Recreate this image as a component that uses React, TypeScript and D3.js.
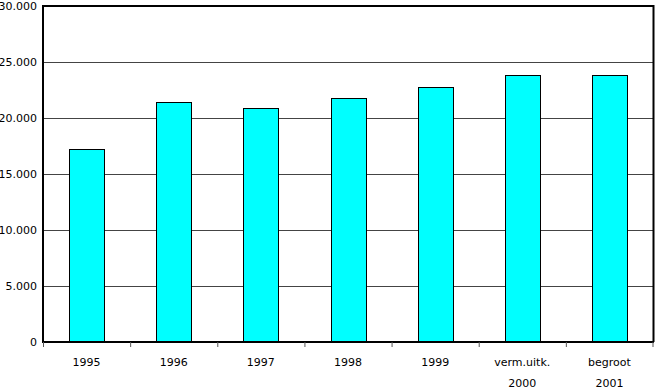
import React from "react";
import * as d3 from "d3";

const categories = ["1995", "1996", "1997", "1998", "1999", "verm.uitk.\n2000", "begroot\n2001"];
const values = [17200, 21400, 20900, 21750, 22800, 23850, 23850];
const yTicks = [0, 5000, 10000, 15000, 20000, 25000, 30000];

const W = 656;
const H = 389;
const left = 43;
const right = 653;
const top = 6;
const bottom = 342;

const locale = d3.formatLocale({ decimal: ",", thousands: ".", grouping: [3], currency: ["", ""] });
const fmt = locale.format(",d");

export default function App() {
  const x = d3.scaleBand<string>().domain(categories).range([left, right]).paddingInner(0.6).paddingOuter(0.3);
  const y = d3.scaleLinear().domain([0, 30000]).range([bottom, top]);
  const step = x.step();
  const font = "'DejaVu Sans', Verdana, sans-serif";

  return (
    <svg width={W} height={H} style={{ position: "absolute", left: 0, top: 0, background: "#fff" }} fontFamily={font}>
      <rect x={0} y={0} width={W} height={H} fill="#fff" />
      {/* gridlines */}
      {yTicks.filter((t) => t > 0 && t < 30000).map((t) => (
        <line key={t} x1={left} x2={right} y1={Math.round(y(t)) + 0.5} y2={Math.round(y(t)) + 0.5} stroke="#444" strokeWidth={1} />
      ))}
      {/* top and right border */}
      <line x1={left} x2={right + 1} y1={y(30000)} y2={y(30000)} stroke="#000" strokeWidth={2} />
      <line x1={right + 0.5} x2={right + 0.5} y1={y(30000) - 1} y2={bottom} stroke="#000" strokeWidth={2} />
      {/* bars */}
      {values.map((v, i) => (
        <rect
          key={categories[i]}
          x={Math.round(x(categories[i])!) + 0.5}
          y={Math.round(y(v)) + 0.5}
          width={Math.round(x.bandwidth())}
          height={Math.round(y(0) - y(v))}
          fill="#00ffff"
          stroke="#000"
          strokeWidth={1}
        />
      ))}
      {/* axes */}
      <line x1={left} x2={left} y1={y(30000) - 1} y2={bottom + 1} stroke="#000" strokeWidth={2} />
      <line x1={left - 1} x2={right + 1} y1={bottom} y2={bottom} stroke="#000" strokeWidth={2} />
      {categories.map((c, i) => (
        <line key={"tk" + i} x1={left + i * step + 0.5} x2={left + i * step + 0.5} y1={bottom} y2={bottom + 5} stroke="#555" strokeWidth={1} />
      ))}
      <line x1={left + categories.length * step} x2={left + categories.length * step} y1={bottom} y2={bottom + 5} stroke="#555" strokeWidth={1} />
      {/* y labels */}
      {yTicks.map((t) => (
        <text key={"yl" + t} x={37} y={y(t)} dy="0.35em" textAnchor="end" fontSize={11} fill="#000">
          {fmt(t)}
        </text>
      ))}
      {/* x labels */}
      {categories.map((c) => (
        <text key={"xl" + c} x={x(c)! + x.bandwidth() / 2} y={366} textAnchor="middle" fontSize={11} fill="#000">
          {c.split("\n").map((line, j) => (
            <tspan key={j} x={x(c)! + x.bandwidth() / 2} dy={j === 0 ? 0 : 21}>
              {line}
            </tspan>
          ))}
        </text>
      ))}
    </svg>
  );
}
